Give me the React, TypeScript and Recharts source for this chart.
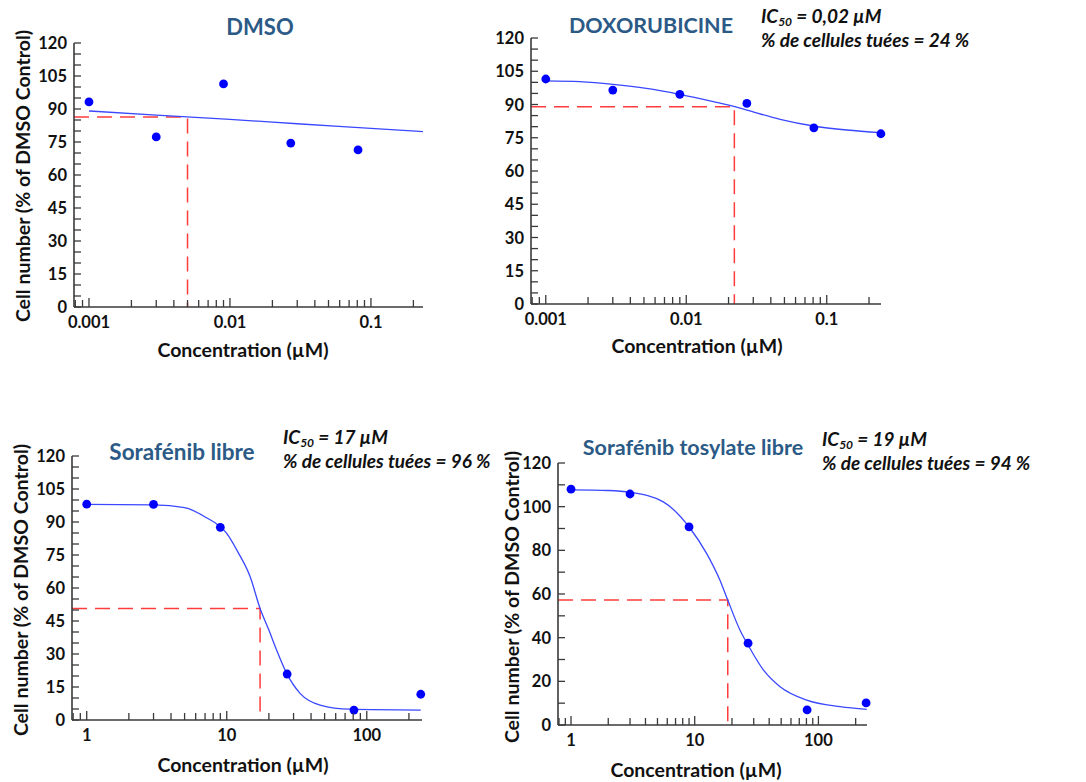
import React from 'react';
import { ComposedChart, Line, Scatter, XAxis, YAxis } from 'recharts';

// concentrations (µM) and measured cell numbers (% of DMSO control)
const dmsoConc = [0.001, 0.003, 0.009, 0.027, 0.081];
const dmsoCells = [93.2, 77.3, 101.4, 74.5, 71.4];
const dmsoFitConc = [0.001, 0.003, 0.01, 0.03, 0.1, 0.234];
const dmsoFitCells = [89.1, 87.2, 85.3, 83.3, 81.2, 79.7];

const doxoConc = [0.001, 0.003, 0.009, 0.027, 0.081, 0.243];
const doxoCells = [101.5, 96.5, 94.6, 90.5, 79.5, 76.8];
const doxoFitConc = [0.001, 0.00175, 0.003, 0.0052, 0.009, 0.0156, 0.0222, 0.027, 0.0466, 0.0804, 0.139, 0.243];
const doxoFitCells = [100.7, 100.3, 99.1, 97.3, 94.6, 91.3, 89.0, 87.5, 83.3, 80.3, 78.5, 77.3];

const soraConc = [1, 3, 9, 27, 81, 243];
const soraCells = [98.1, 98.0, 87.6, 20.9, 4.5, 11.7];
const soraFitConc = [1, 3, 5, 7, 10, 12, 14.7, 17.3, 20, 22.7, 26.8, 33.4, 46.4, 76, 243];
const soraFitCells = [98, 97.8, 96.5, 92.3, 84.8, 76.4, 65.1, 50.7, 40.9, 31.8, 21.2, 12.1, 6.8, 4.9, 4.5];

const tosConc = [1, 3, 9, 27, 81, 243];
const tosCells = [108, 105.8, 90.7, 37.5, 6.9, 10.1];
const tosFitConc = [1, 2, 3, 5.57, 9.2, 12.5, 16, 18.5, 23.2, 27.5, 35.9, 49, 80.4, 150, 246];
const tosFitCells = [107.7, 107.4, 106.6, 102.2, 90, 78.5, 66.3, 57.2, 43.5, 35.8, 25.2, 17.5, 11.4, 8.4, 7.2];

// IC50 read-outs (dashed guides)
const dmsoGuide = { conc: 0.005, cells: 86.4 };
const doxoGuide = { conc: 0.022, cells: 89.0 };
const soraGuide = { conc: 17.3, cells: 50.7 };
const tosGuide = { conc: 18.5, cells: 57.2 };

// tick marks
const xTicksLow = [0.0008, 0.0009, 0.001, 0.002, 0.003, 0.004, 0.005, 0.006, 0.007, 0.008, 0.009, 0.01, 0.02, 0.03, 0.04, 0.05, 0.06, 0.07, 0.08, 0.09, 0.1, 0.2];
const xLabelsLow = [0.001, 0.01, 0.1];
const xTicksHigh = [0.8, 0.9, 1, 2, 3, 4, 5, 6, 7, 8, 9, 10, 20, 30, 40, 50, 60, 70, 80, 90, 100, 200];
const xLabelsHigh = [1, 10, 100];
const yTicks15 = [0, 5, 10, 15, 20, 25, 30, 35, 40, 45, 50, 55, 60, 65, 70, 75, 80, 85, 90, 95, 100, 105, 110, 115, 120];
const yLabels15 = [0, 15, 30, 45, 60, 75, 90, 105, 120];
const yTicks20 = [0, 10, 20, 30, 40, 50, 60, 70, 80, 90, 100, 110, 120];
const yLabels20 = [0, 20, 40, 60, 80, 100, 120];

const AXIS = '#3a3a3a';
const BLUE = '#0000ff';
const CURVE = '#3a48ff';
const RED = '#ff3c3c';
const TITLE = '#2c5a86';
const FONT = 'Lato, "Open Sans", sans-serif';

const zip = (xs: number[], ys: number[]) => xs.map((x, i) => ({ x, y: ys[i] }));
const isLabel = (v: number, labels: number[]) => labels.some((l) => Math.abs(l - v) / l < 1e-6 || (l === 0 && v === 0));

function XTick(props: any) {
  const { x, y, payload, labels } = props;
  const v = payload.value;
  const major = isLabel(v, labels);
  return (
    <g>
      <line x1={x} y1={y} x2={x} y2={y - (major ? 9 : 7)} stroke={AXIS} strokeWidth={1.3} />
      {major && (
        <text x={x} y={y + 21} textAnchor="middle" fontFamily={FONT} fontWeight={700} fontSize={16.5} fill="#111">
          {String(v)}
        </text>
      )}
    </g>
  );
}

function YTick(props: any) {
  const { x, y, payload, labels } = props;
  const v = payload.value;
  const major = isLabel(v, labels);
  return (
    <g>
      <line x1={x} y1={y} x2={x + 7} y2={y} stroke={AXIS} strokeWidth={1.3} />
      {major && (
        <text x={x - 7} y={y + 6} textAnchor="end" fontFamily={FONT} fontWeight={700} fontSize={16.5} fill="#111">
          {String(v)}
        </text>
      )}
    </g>
  );
}

interface PanelProps {
  left: number;
  top: number;
  right: number;
  bottom: number;
  domain: [number, number];
  xTicks: number[];
  xLabels: number[];
  yTicks: number[];
  yLabels: number[];
  points: { x: number; y: number }[];
  fit: { x: number; y: number }[];
  guide: { conc: number; cells: number };
}

function Panel(p: PanelProps) {
  const yw = 50;
  const xh = 40;
  const mt = 10;
  const mr = 10;
  const w = yw + (p.right - p.left) + mr;
  const h = mt + (p.bottom - p.top) + xh;
  const guideData = [
    { x: p.domain[0], y: p.guide.cells },
    { x: p.guide.conc, y: p.guide.cells },
    { x: p.guide.conc, y: 0 },
  ];
  return (
    <div style={{ position: 'absolute', left: p.left - yw, top: p.top - mt }}>
      <ComposedChart width={w} height={h} margin={{ top: mt, right: mr, left: 0, bottom: 0 }}>
        <XAxis
          dataKey="x"
          type="number"
          scale="log"
          domain={p.domain}
          ticks={p.xTicks}
          interval={0}
          height={xh}
          tickSize={0}
          tickMargin={0}
          tickLine={false}
          axisLine={{ stroke: AXIS, strokeWidth: 1.6 }}
          tick={(t: any) => <XTick {...t} labels={p.xLabels} />}
        />
        <YAxis
          dataKey="y"
          type="number"
          domain={[0, 120]}
          ticks={p.yTicks}
          interval={0}
          width={yw}
          tickSize={0}
          tickMargin={0}
          tickLine={false}
          axisLine={{ stroke: AXIS, strokeWidth: 1.6 }}
          tick={(t: any) => <YTick {...t} labels={p.yLabels} />}
        />
        <Line
          data={guideData}
          dataKey="y"
          type="linear"
          stroke={RED}
          strokeWidth={1.5}
          strokeDasharray="15 8"
          dot={false}
          activeDot={false}
          isAnimationActive={false}
        />
        <Line
          data={p.fit}
          dataKey="y"
          type="monotone"
          stroke={CURVE}
          strokeWidth={1.3}
          dot={false}
          activeDot={false}
          isAnimationActive={false}
        />
        <Scatter
          data={p.points}
          dataKey="y"
          fill={BLUE}
          isAnimationActive={false}
          shape={(s: any) => <circle cx={s.cx} cy={s.cy} r={4.4} fill={BLUE} />}
        />
      </ComposedChart>
    </div>
  );
}

function Txt({ x, y, size, color, children, italic, anchor }: any) {
  const tx = anchor === 'start' ? '0' : '-50%';
  return (
    <div
      style={{
        position: 'absolute',
        left: x,
        top: y,
        transform: `translate(${tx}, -50%)`,
        fontFamily: FONT,
        fontWeight: 700,
        fontStyle: italic ? 'italic' : 'normal',
        fontSize: size,
        color: color || '#111',
        whiteSpace: 'nowrap',
        lineHeight: 1.2,
      }}
    >
      {children}
    </div>
  );
}

function YLabel({ x, y }: { x: number; y: number }) {
  return (
    <div
      style={{
        position: 'absolute',
        left: x,
        top: y,
        transform: 'translate(-50%, -50%) rotate(-90deg)',
        fontFamily: FONT,
        fontWeight: 700,
        fontSize: 19.5,
        color: '#111',
        whiteSpace: 'nowrap',
      }}
    >
      Cell number (% of DMSO Control)
    </div>
  );
}

const Ic = ({ value }: { value: string }) => (
  <span>
    IC<sub style={{ fontSize: 12, verticalAlign: '-0.3em', lineHeight: 0 }}>50</sub> = {value}
  </span>
);

export default function App() {
  return (
    <div style={{ position: 'absolute', left: 0, top: 0, width: 1086, height: 782, background: '#fff', overflow: 'hidden' }}>
      <Panel
        left={74} top={43} right={423} bottom={307}
        domain={[0.000783, 0.234]}
        xTicks={xTicksLow} xLabels={xLabelsLow}
        yTicks={yTicks15} yLabels={yLabels15}
        points={zip(dmsoConc, dmsoCells)}
        fit={zip(dmsoFitConc, dmsoFitCells)}
        guide={dmsoGuide}
      />
      <Panel
        left={531} top={38} right={881} bottom={304}
        domain={[0.000785, 0.2434]}
        xTicks={xTicksLow} xLabels={xLabelsLow}
        yTicks={yTicks15} yLabels={yLabels15}
        points={zip(doxoConc, doxoCells)}
        fit={zip(doxoFitConc, doxoFitCells)}
        guide={doxoGuide}
      />
      <Panel
        left={72} top={456} right={422} bottom={720}
        domain={[0.785, 248]}
        xTicks={xTicksHigh} xLabels={xLabelsHigh}
        yTicks={yTicks15} yLabels={yLabels15}
        points={zip(soraConc, soraCells)}
        fit={zip(soraFitConc, soraFitCells)}
        guide={soraGuide}
      />
      <Panel
        left={558} top={463} right={867} bottom={725}
        domain={[0.785, 247]}
        xTicks={xTicksHigh} xLabels={xLabelsHigh}
        yTicks={yTicks20} yLabels={yLabels20}
        points={zip(tosConc, tosCells)}
        fit={zip(tosFitConc, tosFitCells)}
        guide={tosGuide}
      />

      <Txt x={260} y={27} size={22} color={TITLE}>DMSO</Txt>
      <Txt x={651} y={26} size={21.5} color={TITLE}>DOXORUBICINE</Txt>
      <Txt x={182} y={451} size={22.5} color={TITLE}>Sorafénib libre</Txt>
      <Txt x={693} y={448} size={21.5} color={TITLE}>Sorafénib tosylate libre</Txt>

      <Txt x={761} y={16} size={19} italic anchor="start"><Ic value="0,02 µM" /></Txt>
      <Txt x={761} y={40} size={19} italic anchor="start">% de cellules tuées = 24 %</Txt>
      <Txt x={283} y={437} size={19} italic anchor="start"><Ic value="17 µM" /></Txt>
      <Txt x={283} y={461} size={19} italic anchor="start">% de cellules tuées = 96 %</Txt>
      <Txt x={822} y={439} size={19} italic anchor="start"><Ic value="19 µM" /></Txt>
      <Txt x={822} y={463} size={19} italic anchor="start">% de cellules tuées = 94 %</Txt>

      <Txt x={243} y={350} size={19.5}>Concentration (µM)</Txt>
      <Txt x={697} y={346} size={19.5}>Concentration (µM)</Txt>
      <Txt x={243} y={765} size={19.5}>Concentration (µM)</Txt>
      <Txt x={696} y={770} size={19.5}>Concentration (µM)</Txt>

      <YLabel x={22} y={176} />
      <YLabel x={20} y={590} />
      <YLabel x={511} y={597} />
    </div>
  );
}
